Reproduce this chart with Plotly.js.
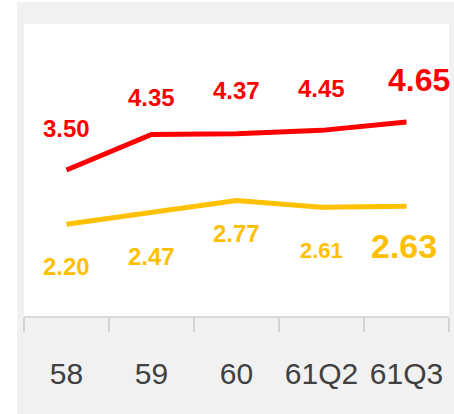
<!DOCTYPE html>
<html>
<head>
<meta charset="utf-8">
<script src="https://cdn.plot.ly/plotly-3.0.1.min.js"></script>
<style>
  html, body { margin: 0; padding: 0; background: #ffffff; }
  #chart { width: 454px; height: 414px; }
</style>
</head>
<body>
<div id="chart"></div>
<script>
// ---- data ----
var categories = ['58', '59', '60', '61Q2', '61Q3'];
var redValues = [3.50, 4.35, 4.37, 4.45, 4.65];
var yellowValues = [2.20, 2.47, 2.77, 2.61, 2.63];
var redLabels = ['3.50', '4.35', '4.37', '4.45', '4.65'];
var yellowLabels = ['2.20', '2.47', '2.77', '2.61', '2.63'];

// ---- styles ----
var RED = '#ff0000';
var YELLOW = '#ffc000';
var FONT = 'Arial, "Liberation Sans", sans-serif';

var traces = [
  { x: categories, y: redValues, type: 'scatter', mode: 'lines',
    line: { color: RED, width: 5 }, hoverinfo: 'skip' },
  { x: categories, y: yellowValues, type: 'scatter', mode: 'lines',
    line: { color: YELLOW, width: 5 }, hoverinfo: 'skip' }
];

// small per-label nudges (pixels) to follow the reference's label placement
var redShift = [42, 37, 43, 42, 42];
var yellowShift = [42, 44, 33, 43, 40];

var annotations = [];
var last = categories.length - 1;
categories.forEach(function (c, i) {
  var big = (i === last);
  // category index used as x so numeric-looking category names are not read as numbers
  annotations.push({
    x: i, y: redValues[i], xref: 'x', yref: 'y', showarrow: false,
    text: '<b>' + redLabels[i] + '</b>',
    font: { family: FONT, size: big ? 32 : 24, color: RED },
    yshift: redShift[i], xshift: big ? 12 : 0
  });
  annotations.push({
    x: i, y: yellowValues[i], xref: 'x', yref: 'y', showarrow: false,
    text: '<b>' + yellowLabels[i] + '</b>',
    font: { family: FONT, size: big ? 34 : (i === 3 ? 22 : 24), color: YELLOW },
    yshift: -yellowShift[i], xshift: big ? -3 : 0
  });
});

var layout = {
  width: 454, height: 414,
  margin: { l: 24, r: 5, t: 24, b: 98, pad: 0 },
  paper_bgcolor: '#f1f1f1',
  plot_bgcolor: '#ffffff',
  showlegend: false,
  font: { family: FONT },
  xaxis: {
    type: 'category',
    range: [-0.5, 4.5],
    showgrid: false, zeroline: false,
    showline: true, linecolor: '#d9d9d9', linewidth: 2,
    ticks: 'outside', tickson: 'boundaries', ticklen: 14,
    tickcolor: '#d3d3d3', tickwidth: 2,
    tickfont: { family: FONT, size: 30, color: '#404040' },
    ticklabelstandoff: 30,
    fixedrange: true
  },
  yaxis: {
    range: [0, 7],
    showgrid: false, zeroline: false, showline: false,
    showticklabels: false, ticks: '',
    fixedrange: true
  },
  annotations: annotations,
  shapes: [
    { type: 'rect', xref: 'paper', yref: 'paper', layer: 'below',
      x0: -0.06, x1: -7 / 425, y0: -0.4, y1: 1.1, fillcolor: '#ffffff', line: { width: 0 } },
    { type: 'rect', xref: 'paper', yref: 'paper', layer: 'below',
      x0: -0.06, x1: 1.02, y0: 314 / 292, y1: 1.1, fillcolor: '#ffffff', line: { width: 0 } }
  ]
};

Plotly.newPlot('chart', traces, layout, { displayModeBar: false, staticPlot: true });
</script>
</body>
</html>
